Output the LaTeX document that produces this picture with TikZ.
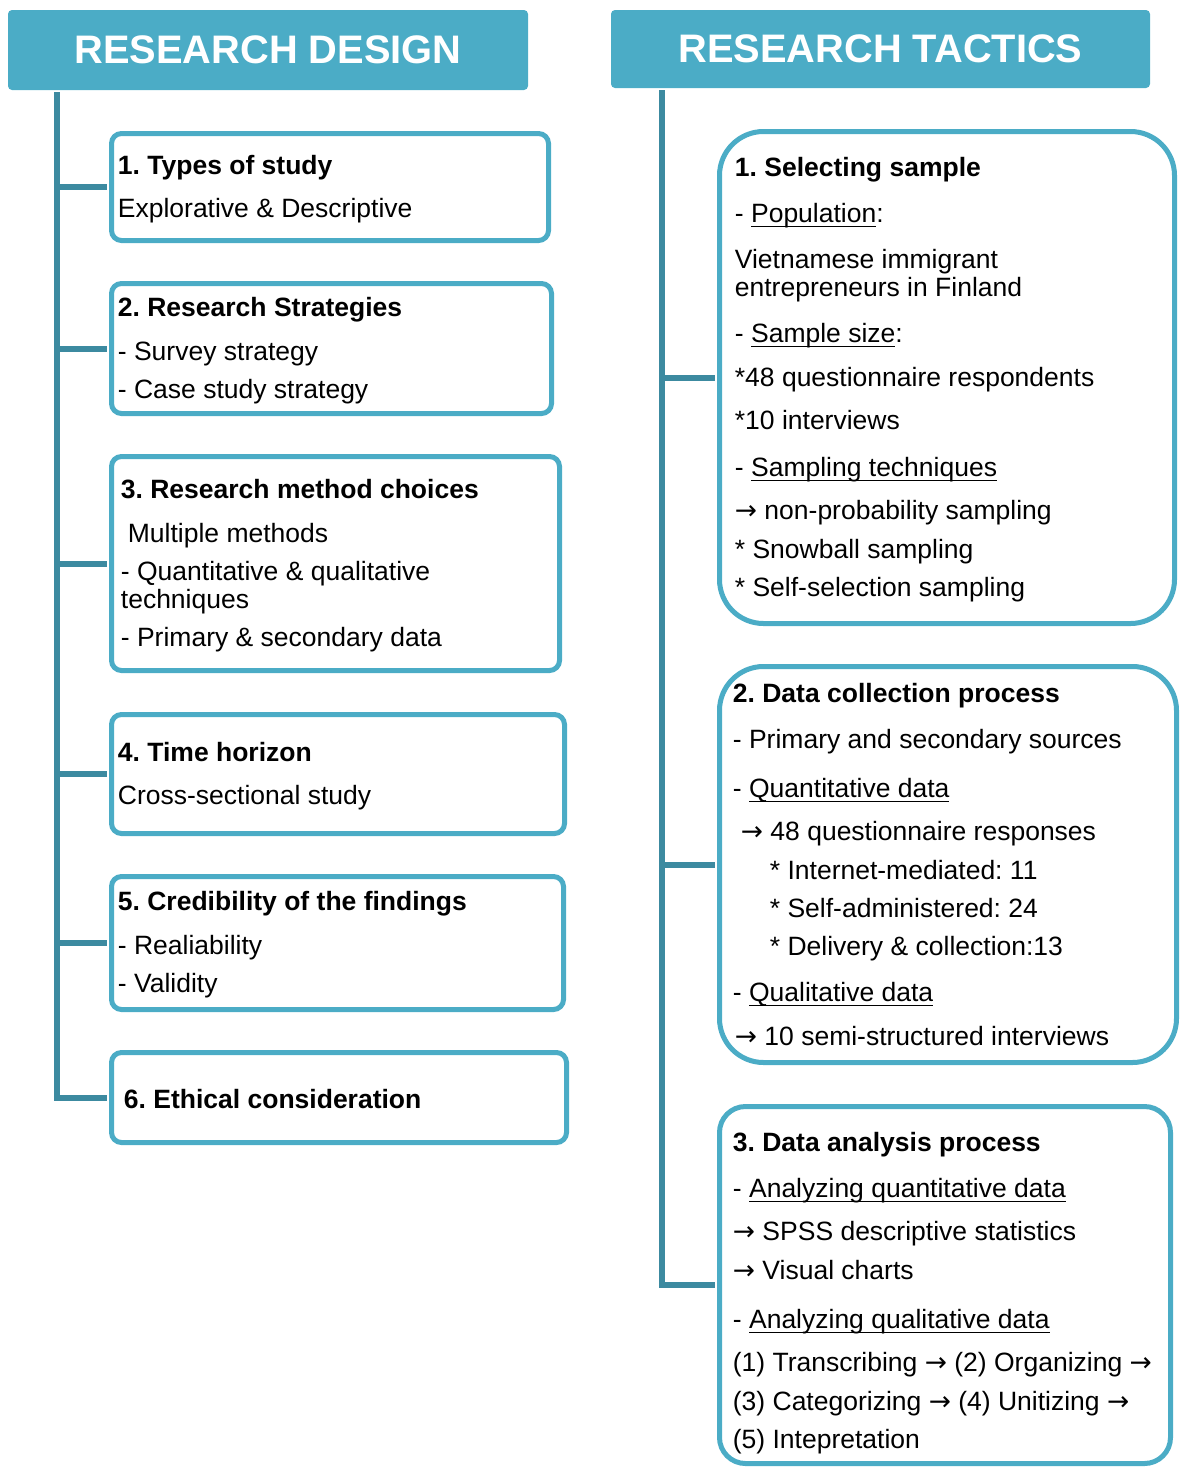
\documentclass[tikz,border=0pt]{standalone}
\usepackage{fontspec}
\setmainfont{Liberation Sans}
\newfontfamily\arrfont{DejaVu Sans}
\usetikzlibrary{positioning}

\definecolor{hdrblue}{RGB}{75,172,198}
\definecolor{trunkblue}{RGB}{60,138,160}

\newcommand{\undl}[1]{\setbox0\hbox{#1}\rlap{\rule[-2.4pt]{\wd0}{0.7pt}}\box0}
\newcommand{\arr}{{\arrfont →}}

\tikzset{
  hdr/.style={fill=hdrblue, rounded corners=2pt, text=white, font=\fontsize{19.9}{22}\selectfont\bfseries},
  dbox/.style={draw=hdrblue, line width=2.5pt, rounded corners=5pt},
  tbox/.style={dbox, rounded corners=22pt},
  btxt/.style={inner sep=0pt, align=left, yshift=-1pt, font=\fontsize{13.25}{14}\selectfont},
  trunk/.style={draw=trunkblue, line width=3pt, shorten >=1.25pt},
}

\begin{document}
\frenchspacing
\begin{tikzpicture}[x=0.5pt,y=-0.5pt]
\useasboundingbox (0,0) rectangle (1181,1468);

% headers
\node[hdr, minimum width=260pt, minimum height=40pt] (hdesign) at (268,50) {RESEARCH DESIGN};
\node[hdr, minimum width=269.5pt, minimum height=39pt] (htactics) at (880.5,49) {RESEARCH TACTICS};

% research design
\node[dbox, minimum width=218.5pt, minimum height=53.5pt] (d1) at (330,187) {};
\node[btxt, right=4.25pt of d1.west] (d1t) {\textbf{1. Types of study}\\[7.5pt]
  Explorative \& Descriptive};

\node[dbox, minimum width=220pt, minimum height=65pt] (d2) at (331.5,348.5) {};
\node[btxt, right=4.25pt of d2.west] (d2t) {\textbf{2. Research Strategies}\\[8pt]
  - Survey strategy\\[5pt]
  - Case study strategy};

\node[dbox, minimum width=224pt, minimum height=107pt] (d3) at (335.5,563.5) {};
\node[btxt, right=5.75pt of d3.west] (d3t) {\textbf{3. Research method choices}\\[8pt]
  \hspace*{3.5pt}Multiple methods\\[5pt]
  - Quantitative \& qualitative\\
  techniques\\[5pt]
  - Primary \& secondary data};

\node[dbox, minimum width=226.5pt, minimum height=59.5pt] (d4) at (338,774) {};
\node[btxt, right=4.25pt of d4.west] (d4t) {\textbf{4. Time horizon}\\[7.5pt]
  Cross-sectional study};

\node[dbox, minimum width=226pt, minimum height=66.5pt] (d5) at (337.5,943) {};
\node[btxt, right=4.25pt of d5.west] (d5t) {\textbf{5. Credibility of the findings}\\[8pt]
  - Realiability\\[5pt]
  - Validity};

\node[dbox, minimum width=227.5pt, minimum height=45pt] (d6) at (339,1097.5) {};
\node[btxt, right=7.25pt of d6.west] (d6t) {\textbf{6. Ethical consideration}};

% research tactics
\node[tbox, minimum width=227.5pt, minimum height=246pt] (t1) at (947,377.5) {};
\node[btxt, right=8.75pt of t1.west] (t1t) {\textbf{1. Selecting sample}\\[9pt]
  - \undl{Population}:\\[9pt]
  Vietnamese immigrant\\
  entrepreneurs in Finland\\[9pt]
  - \undl{Sample size}:\\[8pt]
  {*}48 questionnaire respondents\\[7.5pt]
  {*}10 interviews\\[9.5pt]
  - \undl{Sampling techniques}\\[7.5pt]
  \arr{} non-probability sampling\\[5.5pt]
  {*} Snowball sampling\\[5pt]
  {*} Self-selection sampling};

\node[tbox, minimum width=228.5pt, minimum height=198pt] (t2) at (948,864.5) {};
\node[btxt, right=7.75pt of t2.west, yshift=1pt] (t2t) {\textbf{2. Data collection process}\\[9pt]
  - Primary and secondary sources\\[10.5pt]
  - \undl{Quantitative data}\\[7.5pt]
  \hspace*{4pt}\arr{} 48 questionnaire responses\\[5.5pt]
  \hspace*{18.5pt}{*} Internet-mediated: 11\\[5pt]
  \hspace*{18.5pt}{*} Self-administered: 24\\[5pt]
  \hspace*{18.5pt}{*} Delivery \& collection:13\\[9pt]
  - \undl{Qualitative data}\\[8pt]
  \hspace*{1pt}\arr{} 10 semi-structured interviews};

\node[tbox, rounded corners=13pt, minimum width=225.5pt, minimum height=178.5pt] (t3) at (945,1285) {};
\node[btxt, right=7.75pt of t3.west, yshift=-3pt] (t3t) {\textbf{3. Data analysis process}\\[9pt]
  - \undl{Analyzing quantitative data}\\[7.5pt]
  \arr{} SPSS descriptive statistics\\[5.5pt]
  \arr{} Visual charts\\[10.5pt]
  - \undl{Analyzing qualitative data}\\[7.5pt]
  (1) Transcribing \arr{} (2) Organizing \arr\\[5.5pt]
  (3) Categorizing \arr{} (4) Unitizing \arr\\[5pt]
  (5) Intepretation};

% trunks and branches
\coordinate (ltop) at ([xshift=24.5pt,yshift=-1pt]hdesign.south west);
\coordinate (rtop) at ([xshift=25.5pt,yshift=-1pt]htactics.south west);
\draw[trunk] (ltop) |- (d6.west);
\foreach \b in {d1,d2,d3,d4,d5}
  \draw[trunk] (ltop |- \b.west) -- (\b.west);
\draw[trunk] (rtop) |- (t3.west);
\foreach \b in {t1,t2}
  \draw[trunk] (rtop |- \b.west) -- (\b.west);
\end{tikzpicture}
\end{document}
